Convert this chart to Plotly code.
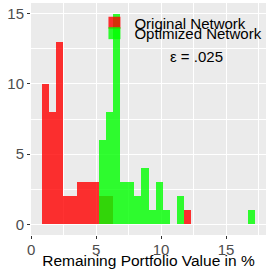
import plotly.graph_objects as go

# Histogram bins (bin centres, in % of portfolio value) and counts per bin
bin_width = 0.548
red_centers = [1.085, 1.633, 2.181, 2.729, 3.277, 3.825, 4.373, 4.921, 5.469, 6.017, 12.045]
red_counts = [10, 8, 13, 2, 2, 3, 3, 3, 2, 2, 1]
green_centers = [5.469, 6.017, 6.565, 7.113, 7.661, 8.209, 8.757, 9.305, 9.853, 10.401, 11.497, 16.977]
green_counts = [6, 8, 15, 3, 3, 2, 4, 1, 3, 1, 2, 1]

series_names = ["Original Network", "Optimized Network"]
x_title = "Remaining Portfolio Value in %"
eps_label = "ε = .025"

FONT = "Liberation Sans, Arial, sans-serif"

fig = go.Figure()
fig.add_trace(go.Bar(
    x=red_centers, y=red_counts, width=bin_width, name=series_names[0],
    marker=dict(color="#FF0000", line=dict(width=0)), opacity=0.8,
    legend="legend", showlegend=True,
))
fig.add_trace(go.Bar(
    x=green_centers, y=green_counts, width=bin_width, name=series_names[1],
    marker=dict(color="#00FF00", line=dict(width=0)), opacity=0.8,
    legend="legend2", showlegend=True,
))

fig.add_annotation(x=12.75, y=11.95, xref="x", yref="y", text=eps_label,
                   showarrow=False, font=dict(family=FONT, size=15, color="black"))

axis_common = dict(
    showgrid=True, gridcolor="white", gridwidth=1.1, zeroline=False,
    ticks="outside", ticklen=3, tickcolor="#333333", tickwidth=1,
    tickfont=dict(family=FONT, size=15, color="#4D4D4D"),
    showline=False, automargin=False,
    minor=dict(showgrid=True, gridcolor="white", gridwidth=0.5, tick0=0, dtick=2.5, ticks=""),
)

fig.update_layout(
    width=269, height=269,
    margin=dict(l=31, r=3, t=3, b=34, autoexpand=False),
    paper_bgcolor="white", plot_bgcolor="#EBEBEB",
    barmode="overlay", bargap=0, showlegend=True,
    font=dict(family=FONT, size=15, color="black"),
    xaxis=dict(range=[-0.01, 18.07], tickmode="linear", tick0=0, dtick=5,
               ticklabelstandoff=-2,
               title=dict(text=x_title, font=dict(family=FONT, size=15.5, color="black"), standoff=0),
               **axis_common),
    yaxis=dict(range=[-0.75, 15.75], tickmode="linear", tick0=0, dtick=5,
               **axis_common),
    legend=dict(x=0.27, y=0.985, xanchor="left", yanchor="top", bgcolor="rgba(0,0,0,0)",
                font=dict(family=FONT, size=15, color="black")),
    legend2=dict(x=0.27, y=0.94, xanchor="left", yanchor="top", bgcolor="rgba(0,0,0,0)",
                 font=dict(family=FONT, size=15, color="black")),
)

fig.write_html("out.html", config={"displayModeBar": False},
               post_script="document.body.style.margin='0';document.body.style.overflow='hidden';")
